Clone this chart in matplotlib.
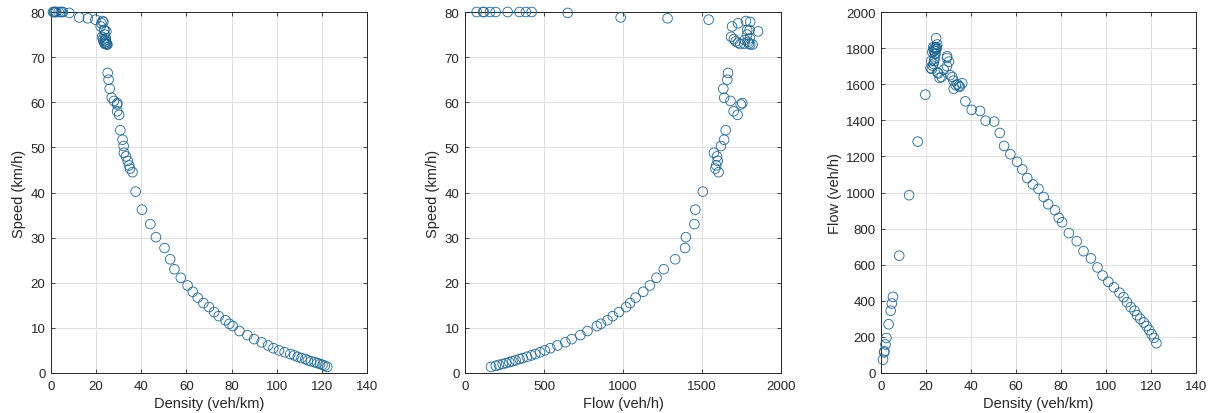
import matplotlib
matplotlib.use("Agg")
import matplotlib.pyplot as plt

plt.rcParams['font.family'] = ['Liberation Sans', 'DejaVu Sans']

# Observed traffic states: density (veh/km), speed (km/h), flow (veh/h)
density = [
    0.9, 1.4, 1.5, 2.0, 2.4, 3.4, 4.3, 4.8, 5.3, 8.1,
    12.5, 16.3, 19.7,
    22.0, 22.3, 22.6, 22.8, 23.0, 23.2, 23.3, 23.5, 23.6, 23.7, 23.8, 23.9,
    24.0, 24.2, 24.3, 24.4, 24.5, 24.6, 24.8, 25.0,
    25.1, 25.5, 26.0, 26.9, 27.9, 29.3, 29.4, 29.3, 30.2, 30.7, 31.7, 32.2,
    32.3, 33.2, 34.0, 34.6, 35.0, 36.1,
    37.5, 40.3, 44.0, 46.5, 50.3, 52.8, 54.7, 57.5, 60.5, 62.8,
    65.0, 67.5, 70.0, 72.3, 74.3, 77.3, 79.0, 80.5, 83.5, 87.0,
    90.0, 93.3, 96.2, 98.5, 101.0, 103.5, 106.0, 107.8, 109.3, 111.0,
    112.7, 113.8, 115.2, 116.8, 118.0, 119.2, 120.3, 121.3, 122.4,
]
speed = [
    80.0, 80.0, 80.0, 80.0, 80.0, 80.0, 80.0, 80.0, 80.0, 79.8,
    78.8, 78.6, 78.3,
    76.8, 77.5, 74.5, 78.0, 74.0, 77.8, 73.5, 76.0, 73.2, 76.0, 75.0, 72.9,
    73.8, 73.0, 74.2, 73.4, 75.7, 73.0, 72.8, 72.8,
    66.5, 65.0, 63.0, 61.0, 60.3, 59.5, 59.8, 58.0, 57.2, 53.8, 51.7, 50.3,
    48.8, 48.0, 47.0, 46.0, 45.3, 44.5,
    40.2, 36.2, 33.0, 30.1, 27.7, 25.2, 23.0, 21.1, 19.4, 18.0,
    16.7, 15.5, 14.6, 13.5, 12.6, 11.7, 10.9, 10.4, 9.3, 8.4,
    7.5, 6.8, 6.1, 5.5, 5.0, 4.6, 4.2, 3.9, 3.6, 3.3,
    3.1, 2.8, 2.6, 2.4, 2.2, 2.0, 1.8, 1.6, 1.35,
]
flow = [
    74, 114, 120, 158, 194, 270, 345, 385, 422, 650,
    985, 1282, 1542,
    1690, 1728, 1684, 1778, 1702, 1805, 1713, 1786, 1728, 1801, 1785, 1742,
    1771, 1767, 1803, 1791, 1855, 1796, 1805, 1820,
    1665, 1660, 1635, 1640, 1680, 1745, 1755, 1700, 1725, 1650, 1640, 1620,
    1575, 1595, 1600, 1590, 1585, 1605,
    1505, 1458, 1452, 1398, 1393, 1330, 1258, 1212, 1170, 1128,
    1080, 1045, 1020, 975, 935, 902, 860, 835, 775, 730,
    675, 635, 585, 540, 505, 475, 445, 420, 392, 365,
    345, 320, 300, 280, 260, 238, 215, 195, 165,
]

x_ticks_density = list(range(0, 141, 20))
x_ticks_flow = list(range(0, 2001, 500))
y_ticks_speed = list(range(0, 81, 10))
y_ticks_flow = list(range(0, 2001, 200))

marker_color = (0.12, 0.40, 0.58)
axis_color = (0.15, 0.15, 0.15)

fig = plt.figure(figsize=(12.12, 4.14), dpi=100)
fig.patch.set_facecolor('white')

W, H = 1212, 414
boxes = [
    (51, 13, 316, 361),
    (465, 13, 316, 361),
    (881, 13, 315, 361),
]

panels = [
    (density, speed, x_ticks_density, y_ticks_speed, (0, 140), (0, 80),
     'Density (veh/km)', 'Speed (km/h)'),
    (flow, speed, x_ticks_flow, y_ticks_speed, (0, 2000), (0, 80),
     'Flow (veh/h)', 'Speed (km/h)'),
    (density, flow, x_ticks_density, y_ticks_flow, (0, 140), (0, 2000),
     'Density (veh/km)', 'Flow (veh/h)'),
]

for (l, t, w, h), (xs, ys, xt, yt, xl, yl, xlab, ylab) in zip(boxes, panels):
    ax = fig.add_axes([l / W, (H - t - h) / H, w / W, h / H])
    ax.scatter(xs, ys, s=48, facecolors='none', edgecolors=marker_color,
               linewidths=0.6, zorder=3, clip_on=False)
    ax.set_xlim(*xl)
    ax.set_ylim(*yl)
    ax.set_xticks(xt)
    ax.set_yticks(yt)
    ax.grid(True, color=(0.88, 0.88, 0.88), linewidth=0.7)
    ax.set_axisbelow(True)
    ax.tick_params(direction='in', length=3, width=0.6, top=True, right=True,
                   labelsize=9.5, colors=axis_color)
    ax.tick_params(axis='x', pad=5)
    ax.tick_params(axis='y', pad=4)
    for sp in ax.spines.values():
        sp.set_color(axis_color)
        sp.set_linewidth(0.7)
    ax.set_xlabel(xlab, fontsize=10.5, color=axis_color, labelpad=3)
    ax.set_ylabel(ylab, fontsize=10.5, color=axis_color, labelpad=3)

fig.savefig('out.png', dpi=100, facecolor='white')
